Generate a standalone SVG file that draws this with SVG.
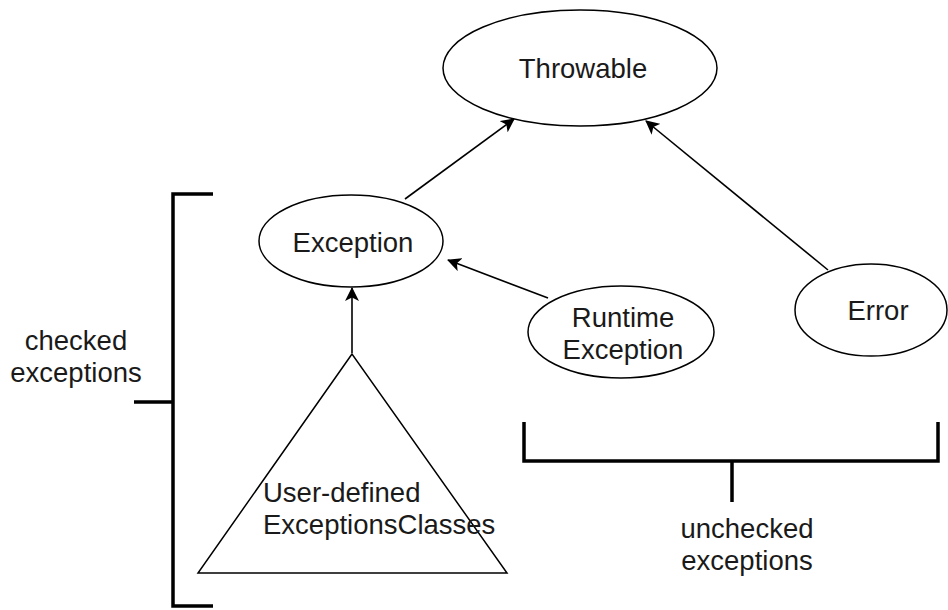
<svg xmlns="http://www.w3.org/2000/svg" width="948" height="610" viewBox="0 0 948 610">
<style>
.shape{fill:#fff;stroke:#000;stroke-width:1.5}
.lbl{font-family:"Liberation Sans",Arial,sans-serif;font-size:27.5px;fill:#1a1a1a}
.c{text-anchor:middle}
.conn{stroke:#000;stroke-width:1.6;fill:none;marker-end:url(#arr)}
.br{stroke:#000;stroke-width:3.5;fill:none}
</style>
<defs>
<marker id="arr" viewBox="0 0 14 14" refX="13" refY="7" markerWidth="14" markerHeight="14" markerUnits="userSpaceOnUse" orient="auto">
<path d="M0,0 L14,7 L0,14 L3.5,7 Z" fill="#000"/>
</marker>
</defs>
<rect width="948" height="610" fill="#fff"/>
<g id="connectors">
<line class="conn" x1="405" y1="199" x2="514" y2="119"/>
<line class="conn" x1="828" y1="270" x2="646" y2="121"/>
<line class="conn" x1="548" y1="298" x2="448" y2="260"/>
<line class="conn" x1="352" y1="353" x2="352" y2="288"/>
</g>
<g id="throwable">
<ellipse class="shape" cx="580" cy="68" rx="137" ry="58"/>
<text class="lbl c" x="583" y="78">Throwable</text>
</g>
<g id="exception">
<ellipse class="shape" cx="351" cy="241" rx="92" ry="46"/>
<text class="lbl c" x="353" y="252">Exception</text>
</g>
<g id="runtime">
<ellipse class="shape" cx="621" cy="332" rx="93" ry="46"/>
<text class="lbl c" x="623" y="327">Runtime</text>
<text class="lbl c" x="623" y="359">Exception</text>
</g>
<g id="error">
<ellipse class="shape" cx="871" cy="310" rx="76" ry="46"/>
<text class="lbl c" x="878" y="320">Error</text>
</g>
<g id="userdefined">
<polygon class="shape" points="352,354 198,573 507,573"/>
<text class="lbl" x="263" y="502">User-defined</text>
<text class="lbl" x="263" y="534">ExceptionsClasses</text>
</g>
<g id="checked">
<path class="br" d="M213,194 H173 V606 H213 M134,402 H173"/>
<text class="lbl c" x="76" y="350">checked</text>
<text class="lbl c" x="76" y="382">exceptions</text>
</g>
<g id="unchecked">
<path class="br" d="M524,422 V461 H938 V422 M732,461 V502"/>
<text class="lbl c" x="747" y="538">unchecked</text>
<text class="lbl c" x="747" y="570">exceptions</text>
</g>
</svg>
